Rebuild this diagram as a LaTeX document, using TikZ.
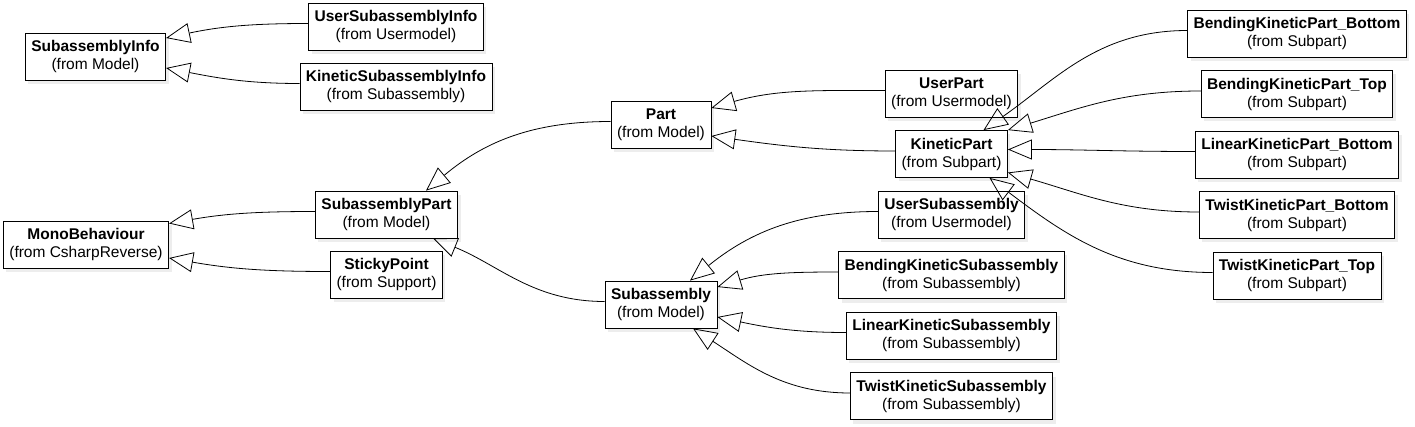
\documentclass[tikz,border=0pt]{standalone}
\usepackage{fontspec}
\setmainfont{Liberation Sans}
\usetikzlibrary{arrows.meta,shadows}
\tikzstyle{class box}=[
        draw,
        thick,
        fill = white,
        align = center,
        inner xsep = 6pt,
        minimum height = 47pt,
        font = \fontsize{15.5}{18}\selectfont,
        drop shadow = {shadow xshift=3pt, shadow yshift=-4pt, fill=black!7, opacity=1}
    ]

\begin{document}
\begin{tikzpicture}[x=1pt, y=1pt, node distance={60.5pt}, thick, gen/.style = {-{Triangle[open, length=24pt, width=20pt]}}]
        \useasboundingbox (0,0) rectangle (1415,426);

        \node[class box] (SI) at (95.5,369.5) {\textbf{SubassemblyInfo}\\(from Model)};
        \node[class box] (MB) at (86,181.5) {\textbf{MonoBehaviour}\\(from CsharpReverse)};
        \node[class box] (USI) at (396,399.5) {\textbf{UserSubassemblyInfo}\\(from Usermodel)};
        \node[class box] (KSI) [below of = USI, node distance=60pt] {\textbf{KineticSubassemblyInfo}\\(from Subassembly)};
        \node[class box] (SP) at (386.5,211.5) {\textbf{SubassemblyPart}\\(from Model)};
        \node[class box] (STP) [below of = SP, node distance=60pt] {\textbf{StickyPoint}\\(from Support)};
        \node[class box] (Part) at (661,301.5) {\textbf{Part}\\(from Model)};
        \node[class box] (Sub) at (661,121.5) {\textbf{Subassembly}\\(from Model)};
        \node[class box] (UP) at (951.5,332.5) {\textbf{UserPart}\\(from Usermodel)};
        \node[class box] (KP) [below of = UP] {\textbf{KineticPart}\\(from Subpart)};
        \node[class box] (US) [below of = KP] {\textbf{UserSubassembly}\\(from Usermodel)};
        \node[class box] (BKS) [below of = US] {\textbf{BendingKineticSubassembly}\\(from Subassembly)};
        \node[class box] (LKS) [below of = BKS] {\textbf{LinearKineticSubassembly}\\(from Subassembly)};
        \node[class box] (TKS) [below of = LKS] {\textbf{TwistKineticSubassembly}\\(from Subassembly)};
        \node[class box] (BKPB) at (1297,392.5) {\textbf{BendingKineticPart\_Bottom}\\(from Subpart)};
        \node[class box] (BKPT) [below of = BKPB] {\textbf{BendingKineticPart\_Top}\\(from Subpart)};
        \node[class box] (LKPB) [below of = BKPT] {\textbf{LinearKineticPart\_Bottom}\\(from Subpart)};
        \node[class box] (TKPB) [below of = LKPB] {\textbf{TwistKineticPart\_Bottom}\\(from Subpart)};
        \node[class box] (TKPT) [below of = TKPB] {\textbf{TwistKineticPart\_Top}\\(from Subpart)};

        \draw[gen] ([yshift=3pt]USI.west) to[out=180, in=12] ([yshift=18.5pt]SI.east);
        \draw[gen] ([yshift=3pt]KSI.west) to[out=180, in=-11] ([yshift=-11.5pt]SI.east);
        \draw[gen] ([yshift=3pt]SP.west) to[out=180, in=10] ([yshift=21pt]MB.east);
        \draw[gen] ([yshift=3pt]STP.west) to[out=180, in=-10] ([yshift=-13.5pt]MB.east);
        \draw[gen] ([yshift=3pt]Part.west) to[out=180, in=40] ([xshift=39.5pt]SP.north);
        \draw[gen] ([yshift=3pt]Sub.west) to[out=180, in=-22] ([xshift=46.5pt]SP.south);
        \draw[gen] ([yshift=3pt]UP.west) to[out=180, in=16] ([yshift=16.5pt]Part.east);
        \draw[gen] ([yshift=3pt]KP.west) to[out=180, in=-8] ([yshift=-11.5pt]Part.east);
        \draw[gen] ([yshift=3pt]BKPB.west) to[out=180, in=35] ([xshift=32pt]KP.north);
        \draw[gen] ([yshift=3pt]BKPT.west) to[out=180, in=17] (KP.north east);
        \draw[gen] ([yshift=3pt]LKPB.west) to[out=180, in=0] ([yshift=4.5pt]KP.east);
        \draw[gen] ([yshift=3pt]TKPB.west) to[out=180, in=-16] ([yshift=-18.5pt]KP.east);
        \draw[gen] ([yshift=3pt]TKPT.west) to[out=180, in=-37] ([xshift=38pt]KP.south);
        \draw[gen] ([yshift=3pt]US.west) to[out=180, in=39] ([xshift=29pt]Sub.north);
        \draw[gen] ([yshift=3pt]BKS.west) to[out=180, in=17] ([yshift=17.5pt]Sub.east);
        \draw[gen] ([yshift=3pt]LKS.west) to[out=180, in=-12] ([yshift=-12.5pt]Sub.east);
        \draw[gen] ([yshift=3pt]TKS.west) to[out=180, in=-33] ([xshift=32pt]Sub.south);
    \end{tikzpicture}
\end{document}
